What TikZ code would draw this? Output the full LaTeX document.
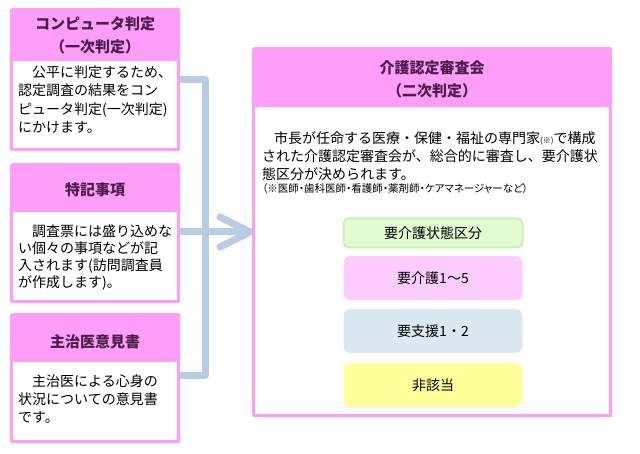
\documentclass[tikz,border=0pt]{standalone}
\usepackage{fontspec}
\setmainfont{Noto Sans CJK JP}
\newfontfamily\propfont[RawFeature=+palt]{Noto Sans CJK JP}
\usetikzlibrary{calc}
\definecolor{pk}{HTML}{FF9EF8}
\definecolor{hd}{HTML}{4A1E4A}
\definecolor{cn}{HTML}{B8CCE4}
\definecolor{gfill}{HTML}{E2FCD2}
\definecolor{gline}{HTML}{C9F2B8}
\definecolor{pfill}{HTML}{FFCCFF}
\definecolor{bfill}{HTML}{DAE9F1}
\definecolor{yfill}{HTML}{FFFF99}
\begin{document}
\begin{tikzpicture}[x=1pt,y=-1pt,
  outerbox/.style={fill=pk, draw=none, rounded corners=2pt, inner sep=0, anchor=north west},
  head/.style={font=\fontsize{15}{23}\selectfont\bfseries, text=hd, align=center, inner sep=0},
  body/.style={font=\fontsize{14}{18}\selectfont, align=left, anchor=north west, inner sep=0},
  conn/.style={draw=cn, line width=7pt, line cap=round, line join=round},
  resbox/.style={rounded corners=7pt, minimum width=179pt, minimum height=44pt, font=\fontsize{14}{18}\selectfont, inner sep=0}
]
\useasboundingbox (0,0) rectangle (640,454);
\fill[white] (0,0) rectangle (640,454);

% connectors
\coordinate (j1) at (205,80);
\coordinate (j2) at (205,232);
\coordinate (j3) at (205,375);
\coordinate (tip) at (250,232);
\coordinate (lb1) at (176,80);
\coordinate (lb2) at (176,232);
\coordinate (lb3) at (176,375);
\draw[conn] (lb1) -- (j1) -- (j3) -- (lb3);
\draw[conn] (lb2) -- (tip);
\draw[conn] ($(tip)+(-30,-15)$) -- (tip) -- ($(tip)+(-30,15)$);

% left box 1
\node[outerbox, minimum width=170pt, minimum height=143pt] (b1) at (10,8) {};
\fill[white] (13,61) rectangle (177,148);
\node[head] (h1) at (95,35) {コンピュータ判定\\（一次判定）};
\node[body] (t1) at (18,65.5) {\hspace*{14pt}公平に判定するため、\\[0.4pt]認定調査の結果をコン\\[0.4pt]ピュータ判定(一次判定)\\[0.4pt]にかけます。};

% left box 2
\node[outerbox, minimum width=170pt, minimum height=140pt] (b2) at (10,163) {};
\fill[white] (13,212) rectangle (177,300);
\node[head] (h2) at (95,190) {特記事項};
\node[body] (t2) at (18,224.5) {\hspace*{14pt}調査票には盛り込めな\\[-1pt]い個々の事項などが記\\[-1pt]入されます(訪問調査員\\[-1pt]が作成します)。};

% left box 3
\node[outerbox, minimum width=170pt, minimum height=130pt] (b3) at (10,313) {};
\fill[white] (13,362) rectangle (177,440);
\node[head] (h3) at (95,342) {主治医意見書};
\node[body] (t3) at (18,374.5) {\hspace*{14pt}主治医による心身の\\状況についての意見書\\です。};

% main box
\node[outerbox, minimum width=360pt, minimum height=370pt] (m) at (252,47) {};
\fill[white] (255,107) rectangle (609,414);
\node[head] (hm) at (432,79) {介護認定審査会\\（二次判定）};
\node[body] (tm) at (262,131) {\hspace*{12pt}市長が任命する医療・保健・福祉の専門家{\fontsize{8}{9}\selectfont(※)}で構成\\された介護認定審査会が、総合的に審査し、要介護状\\態区分が決められます。\\[-5pt]{\propfont\fontsize{10.5}{12}\selectfont（※医師・歯科医師・看護師・薬剤師・ケアマネージャーなど）}};

% results
\node[resbox, fill=gfill, draw=gline, line width=2pt, minimum height=29pt, rounded corners=5pt] (r0) at (433,233) {要介護状態区分};
\node[resbox, fill=pfill] (r1) at (433,278) {要介護1～5};
\node[resbox, fill=bfill] (r2) at (433,331) {要支援1・2};
\node[resbox, fill=yfill] (r3) at (433,385) {非該当};
\end{tikzpicture}
\end{document}
